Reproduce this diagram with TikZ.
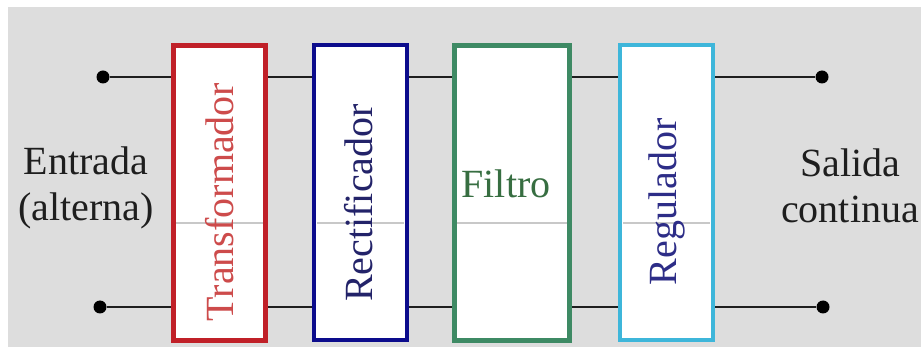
\documentclass[tikz,border=0pt]{standalone}
\usepackage{fontspec}
\setmainfont{Liberation Serif}
\newfontfamily\labelfont{Liberation Serif}
\usepackage{tikz}
\usetikzlibrary{positioning}
\definecolor{bggray}{RGB}{221,221,221}
\definecolor{wiregray}{RGB}{30,30,30}
\definecolor{trafored}{RGB}{192,32,40}
\definecolor{trafotext}{RGB}{205,75,75}
\definecolor{rectblue}{RGB}{12,12,140}
\definecolor{recttext}{RGB}{35,35,105}
\definecolor{filtgreen}{RGB}{62,138,100}
\definecolor{filttext}{RGB}{55,110,65}
\definecolor{regcyan}{RGB}{62,182,218}
\definecolor{regtext}{RGB}{45,45,135}
\definecolor{midgray}{RGB}{200,200,200}

\begin{document}
\begin{tikzpicture}[x=1pt, y=-1pt, font=\labelfont\fontsize{40}{46}\selectfont, block/.style={rectangle, fill=white, minimum width=93pt, minimum height=295pt, inner sep=0pt}, blocktext/.style={rotate=90, inner sep=0pt}, sidetext/.style={align=center, text=wiregray, inner sep=0pt}, wire/.style={draw=wiregray, line width=2pt}, terminal/.style={circle, fill=black, minimum size=13pt, inner sep=0pt}, midline/.style={draw=midgray, line width=1.5pt}]

    \useasboundingbox (0,0) rectangle (924,347);
    \fill[bggray] (8,7) rectangle (921,347);

    %Nodes
    \node[block, draw=trafored, line width=5pt, minimum width=92pt](trafo) at (219.5,193){};
    \node[block, draw=rectblue, line width=4pt](rect)[right=44pt of trafo]{};
    \node[block, draw=filtgreen, line width=5pt, minimum width=115pt](filtro)[right=43pt of rect]{};
    \node[block, draw=regcyan, line width=4pt](regul)[right=46pt of filtro]{};

    \node[terminal](in_top) at (103,77){};
    \node[terminal](in_bot) at (100,307){};
    \node[terminal](out_top) at (822,77){};
    \node[terminal](out_bot) at (823,307){};

    \coordinate (midlevel) at (0,223);
    \foreach \b in {trafo,rect,filtro,regul}
        \draw[midline] ([xshift=5pt]\b.west |- midlevel) -- ([xshift=-5pt]\b.east |- midlevel);

    \node[blocktext, text=trafotext](trafo_text) at ([yshift=-9pt]trafo.center){Transformador};
    \node[blocktext, text=recttext](rect_text) at ([xshift=-2pt, yshift=-10pt]rect.center){Rectificador};
    \node[text=filttext, inner sep=0pt](filtro_text) at ([xshift=-6pt, yshift=9pt]filtro.center){Filtro};
    \node[blocktext, text=regtext](regul_text) at ([yshift=-9pt]regul.center){Regulador};

    \node[sidetext](input_text) at (86,188){Entrada\\(alterna)};
    \node[sidetext](output_text) at (850,186){Salida\\continua};

    %Lines
    \draw[wire] (in_top) -- (in_top -| trafo.west);
    \draw[wire] (trafo.east |- in_top) -- (rect.west |- in_top);
    \draw[wire] (rect.east |- in_top) -- (filtro.west |- in_top);
    \draw[wire] (filtro.east |- in_top) -- (regul.west |- in_top);
    \draw[wire] (regul.east |- out_top) -- (out_top);
    \draw[wire] (in_bot) -- (in_bot -| trafo.west);
    \draw[wire] (trafo.east |- in_bot) -- (rect.west |- in_bot);
    \draw[wire] (rect.east |- in_bot) -- (filtro.west |- in_bot);
    \draw[wire] (filtro.east |- in_bot) -- (regul.west |- in_bot);
    \draw[wire] (regul.east |- out_bot) -- (out_bot);

\end{tikzpicture}
\end{document}
